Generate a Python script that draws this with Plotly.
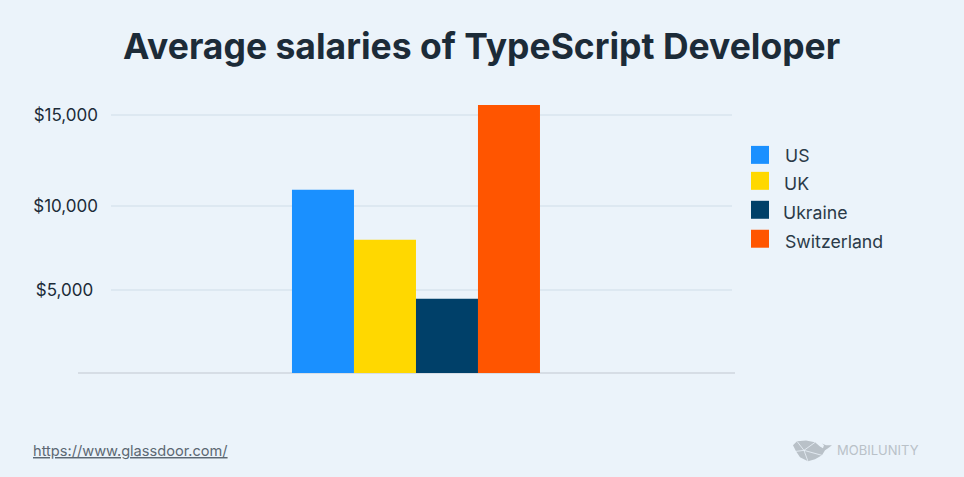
"""Average salaries of TypeScript Developer: grouped bars with a hand-placed legend."""

import plotly.graph_objects as go

# Countries and bar heights
COUNTRIES = ["US", "UK", "Ukraine", "Switzerland"]
SALARIES = [10990, 7990, 4460, 16080]
BAR_COLORS = ["#1a90ff", "#ffd800", "#004069", "#ff5500"]

# The source axis is slightly uneven, so ticks sit where they were drawn
TICK_VALUES = [5000, 10030, 15480]
TICK_LABELS = ["$5,000&nbsp;", "$10,000", "$15,000"]

WIDTH = 964
HEIGHT = 477
PLOT_LEFT = 111
PLOT_RIGHT = 732
PLOT_TOP = 90
PLOT_BOTTOM = 373.5
BG_COLOR = "#ebf3fa"
TEXT_COLOR = "#1c2b38"
FONT = "Inter, sans-serif"

# Legend offsets differ per row in the source
LEGEND_TEXT_X = [783, 782, 781, 783]
LEGEND_TEXT_Y = [156, 184, 213, 242]
LEGEND_SWATCH_Y = [155, 181, 210, 239]

# Whale logo outline and facets in page pixels
WHALE = [(793, 446), (797, 442), (806, 441), (815, 443), (820, 447), (823, 449), (824, 446),
         (822, 444), (826, 446), (832, 446), (828, 449), (825, 451), (822, 456), (815, 460),
         (808, 462), (800, 458), (796, 452)]
FACETS = [[(797, 442), (804, 451), (815, 443)], [(796, 452), (804, 451), (808, 462)],
          [(804, 451), (822, 456)]]


def px_x(x):
    return (x - PLOT_LEFT) / (PLOT_RIGHT - PLOT_LEFT)


def px_y(y):
    return (PLOT_BOTTOM - y) / (PLOT_BOTTOM - PLOT_TOP)


def to_path(points):
    return "M" + "L".join(f"{px_x(x):.4f},{px_y(y):.4f}" for x, y in points)


fig = go.Figure()

for name, value, color in zip(COUNTRIES, SALARIES, BAR_COLORS):
    fig.add_trace(go.Bar(x=[0], y=[value], name=name, marker_color=color, marker_line_width=0))

# Baseline runs past the plot area on both sides
fig.add_shape(type="line", xref="paper", yref="paper", x0=px_x(78), x1=px_x(735), y0=0, y1=0,
              line=dict(color="#cfd6de", width=1.5), layer="below")

# Legend
for i, name in enumerate(COUNTRIES):
    swatch_y = LEGEND_SWATCH_Y[i]
    fig.add_shape(type="rect", xref="paper", yref="paper", x0=px_x(751), x1=px_x(769),
                  y0=px_y(swatch_y + 9), y1=px_y(swatch_y - 9), fillcolor=BAR_COLORS[i], line_width=0)
    fig.add_annotation(text=name, xref="paper", yref="paper", x=px_x(LEGEND_TEXT_X[i]),
                       y=px_y(LEGEND_TEXT_Y[i]), xanchor="left", yanchor="middle", showarrow=False,
                       font=dict(family=FONT, size=17.7, color="#2a3a48"))

# Title, source link and logo
fig.add_annotation(text="<b>Average salaries of TypeScript Developer</b>", xref="paper", yref="paper",
                   x=px_x(481.5), y=px_y(46), xanchor="center", yanchor="middle", showarrow=False,
                   font=dict(family=FONT, size=35.5, color=TEXT_COLOR))
fig.add_annotation(text="<u>https://www.glassdoor.com/</u>", xref="paper", yref="paper",
                   x=px_x(31), y=px_y(452), xanchor="left", yanchor="middle", showarrow=False,
                   font=dict(family=FONT, size=14.6, color="#5c6873"))
fig.add_annotation(text="MOBILUNITY", xref="paper", yref="paper",
                   x=px_x(835), y=px_y(451), xanchor="left", yanchor="middle", showarrow=False,
                   font=dict(family=FONT, size=13, color="#b9c1c8"))
fig.add_shape(type="path", xref="paper", yref="paper", path=to_path(WHALE) + "Z",
              fillcolor="#b9c1c8", line_width=0)
for facet in FACETS:
    fig.add_shape(type="path", xref="paper", yref="paper", path=to_path(facet),
                  line=dict(color=BG_COLOR, width=0.8))

fig.update_layout(
    width=WIDTH,
    height=HEIGHT,
    paper_bgcolor=BG_COLOR,
    plot_bgcolor=BG_COLOR,
    barmode="group",
    bargap=0.6,
    bargroupgap=0,
    showlegend=False,
    margin=dict(l=PLOT_LEFT, r=WIDTH - PLOT_RIGHT, t=PLOT_TOP, b=HEIGHT - PLOT_BOTTOM, pad=0),
    font=dict(family=FONT, color=TEXT_COLOR),
    xaxis=dict(range=[-0.4919, 0.5097], showticklabels=False, showgrid=False, zeroline=False,
               ticks="", fixedrange=True),
    yaxis=dict(range=[0, (PLOT_BOTTOM - PLOT_TOP) / 83.5 * 5000], tickvals=TICK_VALUES,
               ticktext=TICK_LABELS, tickfont=dict(family=FONT, size=17, color=TEXT_COLOR),
               ticklabelstandoff=12, gridcolor="#dde8f1", gridwidth=1.5, zeroline=False,
               ticks="", ticklen=0),
)

# Page margin would shift the figure by 8px
fig.write_html("out.html", config=dict(displayModeBar=False),
               post_script="document.body.style.margin='0';")
